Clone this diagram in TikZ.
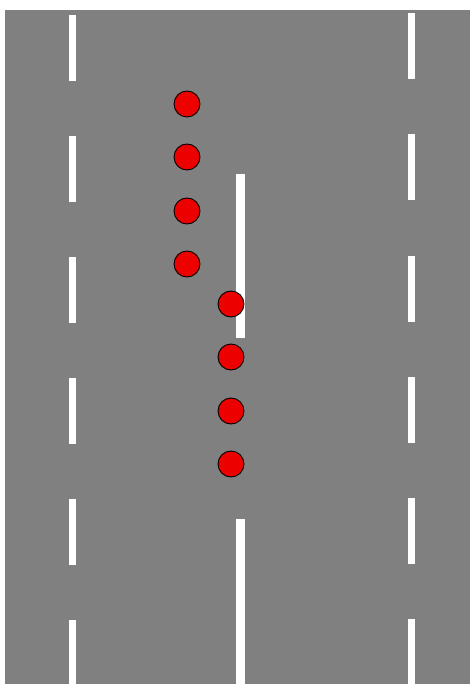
\documentclass[tikz,border=0pt]{standalone}
\definecolor{road}{RGB}{128,128,128}
\definecolor{car}{RGB}{236,0,0}
\tikzset{
  dashmark/.style={fill=white, draw=none},
  carnode/.style={circle, fill=car, draw=black, line width=0.9pt, minimum size=26pt, inner sep=0pt}
}
\begin{document}
\begin{tikzpicture}[x=1pt,y=-1pt]
\useasboundingbox (0,0) rectangle (470,684);
\fill[white] (0,0) rectangle (470,684);
\fill[road] (5,10) rectangle (470,684);
% left dashed line
\foreach \y in {15,136,257,378,499,620}
  \fill[dashmark] (69,\y) rectangle (76,{min(\y+66,684)});
% right dashed line
\foreach \y in {13,134,256,377,498,619}
  \fill[dashmark] (408,\y) rectangle (415,{min(\y+66,684)});
% middle line
\fill[dashmark] (236,174) rectangle (245,338);
\fill[dashmark] (236,519) rectangle (245,684);
% cars
\node[carnode] (a1) at (187,104) {};
\node[carnode] (a2) at (187,157) {};
\node[carnode] (a3) at (187,211) {};
\node[carnode] (a4) at (187,264) {};
\node[carnode] (b1) at (231,304) {};
\node[carnode] (b2) at (231,357) {};
\node[carnode] (b3) at (231,411) {};
\node[carnode] (b4) at (231,464) {};
\end{tikzpicture}
\end{document}
